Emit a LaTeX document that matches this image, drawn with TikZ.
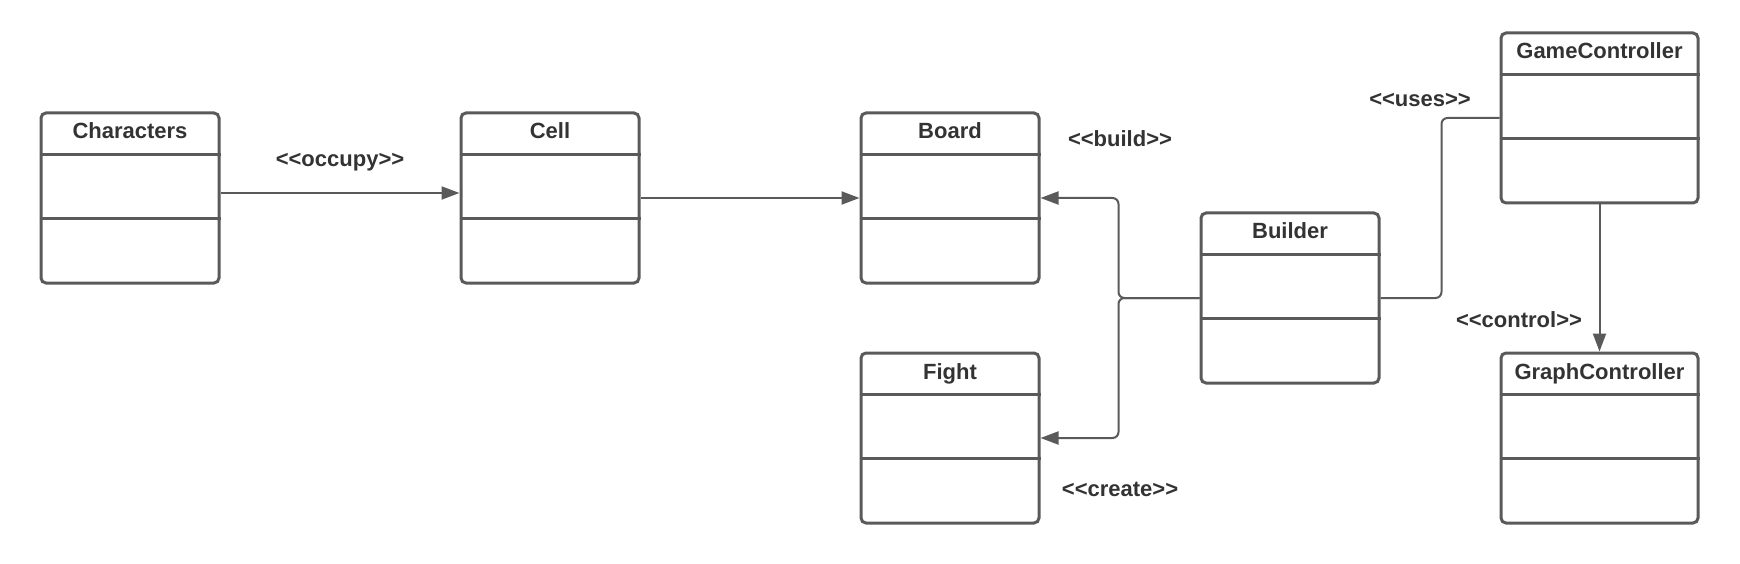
\documentclass[tikz,border=0pt]{standalone}
\usepackage{fontspec}
\setmainfont{Liberation Sans}
\usetikzlibrary{arrows.meta,positioning}
\definecolor{umlgray}{HTML}{5A5A5A}
\definecolor{umltext}{HTML}{333333}
\newcommand{\stereo}[1]{<{}<#1>{}>}

\begin{document}
\begin{tikzpicture}[x=1pt,y=-1pt,
  classbox/.style={draw=umlgray,line width=3pt,rounded corners=5pt,minimum width=178pt,minimum height=170pt,inner sep=0pt},
  wide/.style={minimum width=197pt},
  classname/.style={font=\bfseries\fontsize{22}{26}\selectfont,text=umltext,text height=16pt,text depth=4pt},
  sep/.style={draw=umlgray,line width=3pt},
  assoc/.style={draw=umlgray,line width=2pt,rounded corners=6pt},
  tip/.style={-{Triangle[length=18pt,width=13pt]}},
  stereolbl/.style={font=\bfseries\fontsize{22}{26}\selectfont,text=umltext,text height=16pt,text depth=4pt}]
  \useasboundingbox (0,0) rectangle (1740,564);
  \foreach \id/\x/\y/\w/\name in {characters/130/198//Characters, cell/550/198//Cell,
      board/950/198//Board, fight/950/438//Fight, builder/1290/298//Builder,
      gamectrl/1599.5/118/wide/GameController, graphctrl/1599.5/438/wide/GraphController}{
    \node[classbox,\w] (\id) at (\x,\y) {};
    \node[classname] (\id-name) at ([yshift=-21.5pt]\id.north) {\name};
    \draw[sep] ([yshift=-43pt]\id.north west) -- ([yshift=-43pt]\id.north east);
    \draw[sep] ([yshift=-107pt]\id.north west) -- ([yshift=-107pt]\id.north east);
  }
  \draw[assoc,tip] ([yshift=5pt]characters.east) -- ([yshift=5pt]cell.west);
  \draw[assoc,tip] (cell.east) -- (board.west);
  \draw[assoc,tip] (builder.west) -- ++(-81,0) |- (board.east);
  \draw[assoc,tip] (builder.west) -- ++(-81,0) |- (fight.east);
  \draw[assoc] (builder.east) -- ++(61,0) |- (gamectrl.west);
  \draw[assoc,tip] (gamectrl.south) -- (graphctrl.north);
  % stereotypes
  \node[stereolbl] (occupy) at (340,161) {\stereo{occupy}};
  \node[stereolbl] (build) at (1120,141) {\stereo{build}};
  \node[stereolbl] (create) at (1120,490) {\stereo{create}};
  \node[stereolbl] (uses) at (1420,101) {\stereo{uses}};
  \node[stereolbl] (control) at (1519,321) {\stereo{control}};
\end{tikzpicture}
\end{document}
